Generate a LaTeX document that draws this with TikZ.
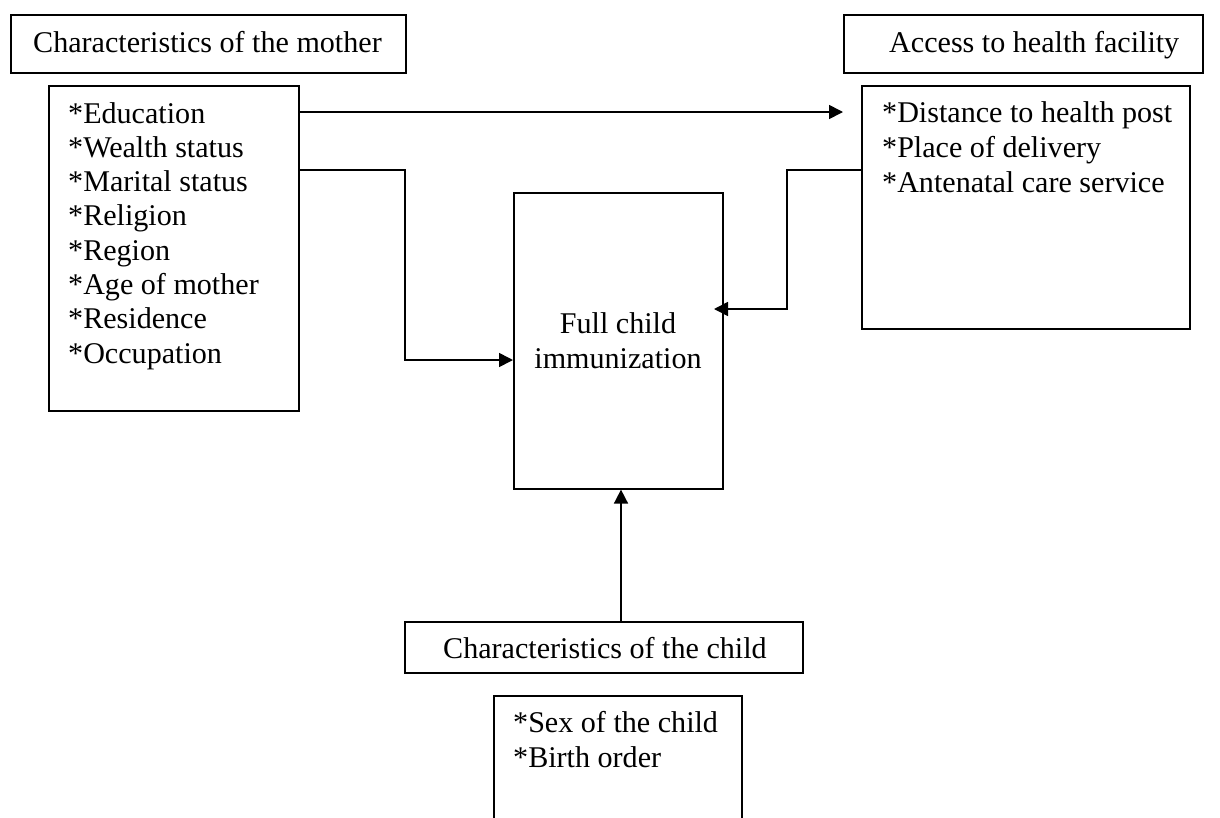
\documentclass[tikz,border=0pt]{standalone}
\usepackage{fontspec}
\setmainfont{Liberation Serif}
\usetikzlibrary{arrows.meta,calc}
\begin{document}
\begin{tikzpicture}[x=1pt,y=-1pt,
  box/.style={draw,line width=1.6pt,inner sep=0pt,anchor=north west},
  txt/.style={anchor=base west,inner sep=0pt,font=\fontsize{30.1}{34}\selectfont},
  ctxt/.style={anchor=base,inner sep=0pt,font=\fontsize{30.1}{34}\selectfont},
  conn/.style={line width=1.6pt},
  arr/.style={conn,-{Triangle[length=14pt,width=14pt]}}]
\useasboundingbox (0,0) rectangle (1220,817);
\fill[white] (0,0) rectangle (1220,817);
\clip (0,0) rectangle (1220,817);
% title boxes
\node[box,minimum width=395pt,minimum height=58pt] (momT) at (10,14) {};
\node[txt] (momTt) at (33,52) {Characteristics of the mother};
\node[box,minimum width=359pt,minimum height=58pt] (accT) at (843,14) {};
\node[txt] (accTt) at (889,52) {Access to health facility};
\node[box,minimum width=398pt,minimum height=51pt] (childT) at (404,621) {};
\node[txt] (childTt) at (443,658) {Characteristics of the child};
% content boxes
\node[box,minimum width=250pt,minimum height=325pt] (mom) at (48,85) {};
\node[box,minimum width=328pt,minimum height=243pt] (acc) at (861,85) {};
\node[box,minimum width=209pt,minimum height=296pt] (full) at (513,192) {};
\node[box,minimum width=248pt,minimum height=160pt] (child) at (493,695) {};
% mother items
\node[txt] (m1) at (68,123) {*Education};
\node[txt] (m2) at (68,157.3) {*Wealth status};
\node[txt] (m3) at (68,191.6) {*Marital status};
\node[txt] (m4) at (68,225.9) {*Religion};
\node[txt] (m5) at (68,260.2) {*Region};
\node[txt] (m6) at (68,294.5) {*Age of mother};
\node[txt] (m7) at (68,328.8) {*Residence};
\node[txt] (m8) at (68,363.1) {*Occupation};
% access items
\node[txt] (a1) at (882,122) {*Distance to health post};
\node[txt] (a2) at (882,157) {*Place of delivery};
\node[txt] (a3) at (882,192) {*Antenatal care service};
% child items
\node[txt] (c1) at (513,732) {*Sex of the child};
\node[txt] (c2) at (513,767) {*Birth order};
% central
\node[ctxt] (f1) at (618,333) {Full child};
\node[ctxt] (f2) at (618,368) {immunization};
% connectors
\coordinate (e1) at (mom.north east |- 0,112);
\coordinate (e1t) at (843,112);
\draw[arr] (e1) -- (e1t);
\coordinate (w1) at (mom.north east |- 0,170);
\coordinate (w2) at (405,170);
\coordinate (w3) at (405,360);
\draw[arr] (w1) -- (w2) -- (w3) -- (full.west |- w3);
\coordinate (r1) at (acc.north west |- 0,170);
\coordinate (r2) at (787,170);
\coordinate (r3) at (787,309);
\coordinate (r4) at (714,309);
\draw[arr] (r1) -- (r2) -- (r3) -- (r4);
\draw[arr] (childT.north -| 621,0) -- (full.south -| 621,0);
\end{tikzpicture}
\end{document}
